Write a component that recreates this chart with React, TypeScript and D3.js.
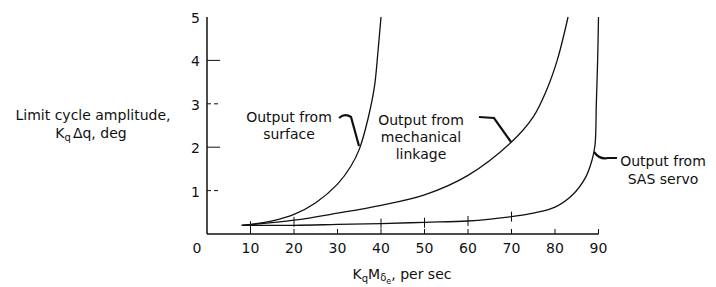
import React, { useEffect, useRef } from "react";
import * as d3 from "d3";

const width = 716;
const height = 287;
const x0 = 207;
const xEnd = 598.5;
const yTop = 17;
const y0 = 234;

const xTicks = [0, 10, 20, 30, 40, 50, 60, 70, 80, 90];
const yTicks = [1, 2, 3, 4, 5];

// [K_q M_delta_e, amplitude]
const surface: [number, number][] = [
  [8, 0.2], [10, 0.22], [15, 0.3], [20, 0.45], [25, 0.72], [30, 1.15],
  [33, 1.55], [35, 1.95], [37, 2.65], [38.5, 3.4], [39.3, 4.2], [40, 5],
];
const mechanical: [number, number][] = [
  [8, 0.2], [20, 0.32], [30, 0.48], [40, 0.66], [50, 0.9], [60, 1.35],
  [70, 2.12], [75, 2.7], [78, 3.3], [80.5, 4], [83, 5],
];
const sasServo: [number, number][] = [
  [8, 0.2], [20, 0.2], [30, 0.22], [40, 0.24], [50, 0.27], [60, 0.3],
  [70, 0.4], [75, 0.48], [80, 0.62], [84, 0.9], [87, 1.3], [88.5, 1.7],
  [89.2, 2.05], [89.5, 3], [89.8, 4], [90, 5],
];
const testMarks: [number, number][] = [
  [10, 0.18], [20, 0.28], [40, 0.24], [50, 0.26], [60, 0.3], [70, 0.4],
];

const font = "'DejaVu Sans', sans-serif";
const fs = 14;

export default function App() {
  const ref = useRef<SVGSVGElement>(null);

  useEffect(() => {
    const svg = d3.select(ref.current);
    svg.selectAll("*").remove();

    const x = d3.scaleLinear().domain([0, 90]).range([x0, xEnd]);
    const y = d3.scaleLinear().domain([0, 5]).range([y0, yTop]);

    const g = svg.append("g").attr("font-family", font).attr("fill", "#111");

    // axes
    g.append("line")
      .attr("x1", x(0)).attr("x2", x(0)).attr("y1", y(0)).attr("y2", y(5))
      .attr("stroke", "#111").attr("stroke-width", 1.5);
    g.append("line")
      .attr("x1", x(0)).attr("x2", x(90)).attr("y1", y(0)).attr("y2", y(0))
      .attr("stroke", "#111").attr("stroke-width", 1.5);

    g.selectAll(".ytick")
      .data(yTicks.filter((d) => d < 5))
      .enter()
      .append("line")
      .attr("x1", x(0)).attr("x2", x(0) + 13)
      .attr("y1", (d) => y(d)).attr("y2", (d) => y(d))
      .attr("stroke", "#111").attr("stroke-width", 1)
      .attr("stroke-dasharray", (d) => (d % 2 === 1 ? "4,3" : null));

    g.selectAll(".ylab")
      .data(yTicks)
      .enter()
      .append("text")
      .attr("x", x(0) - 7)
      .attr("y", (d) => y(d) + 6)
      .attr("text-anchor", "end")
      .attr("font-size", fs)
      .text((d) => d);

    g.selectAll(".xtick")
      .data(xTicks.filter((d) => d > 0))
      .enter()
      .append("line")
      .attr("x1", (d) => x(d)).attr("x2", (d) => x(d))
      .attr("y1", y(0)).attr("y2", y(0) - 5)
      .attr("stroke", "#111").attr("stroke-width", 1);

    g.selectAll(".xlab")
      .data(xTicks)
      .enter()
      .append("text")
      .attr("x", (d) => (d === 0 ? x(0) - 10 : x(d)))
      .attr("y", y(0) + 19)
      .attr("text-anchor", "middle")
      .attr("font-size", fs)
      .text((d) => d);

    // curves
    const line = d3
      .line<[number, number]>()
      .x((d) => x(d[0]))
      .y((d) => y(d[1]))
      .curve(d3.curveCatmullRom.alpha(0.5));

    [surface, mechanical, sasServo].forEach((s) => {
      g.append("path")
        .attr("d", line(s))
        .attr("fill", "none")
        .attr("stroke", "#111")
        .attr("stroke-width", 1.3);
    });

    g.selectAll(".mark")
      .data(testMarks)
      .enter()
      .append("line")
      .attr("x1", (d) => x(d[0])).attr("x2", (d) => x(d[0]))
      .attr("y1", (d) => y(d[1]) - 5).attr("y2", (d) => y(d[1]) + 5)
      .attr("stroke", "#111").attr("stroke-width", 1);

    // labels
    const label = (lines: string[], cx: number, by: number, dy: number) => {
      lines.forEach((t, i) => {
        g.append("text")
          .attr("x", cx).attr("y", by + i * dy)
          .attr("text-anchor", "middle")
          .attr("font-size", fs)
          .text(t);
      });
    };
    label(["Output from", "surface"], 289, 122, 17);
    label(["Output from", "mechanical", "linkage"], 421, 125, 17);
    label(["Output from", "SAS servo"], 663, 166, 18);

    const leader = (d: string) =>
      g.append("path").attr("d", d).attr("fill", "none")
        .attr("stroke", "#111").attr("stroke-width", 2.2);
    leader("M339,118 Q345,113 351,117 L359,146");
    leader("M479,117 L494,118 L511,142");
    leader("M594,152 Q600,160 608,158 L617,158");

    // y title
    const yt = g.append("text").attr("x", 93).attr("y", 120)
      .attr("text-anchor", "middle").attr("font-size", fs);
    yt.text("Limit cycle amplitude,");
    const yt2 = g.append("text").attr("x", 91).attr("y", 138)
      .attr("text-anchor", "middle").attr("font-size", fs);
    yt2.append("tspan").text("K");
    yt2.append("tspan").attr("font-size", 10).attr("dy", 3).text("q");
    yt2.append("tspan").attr("dy", -3).attr("dx", 2).text("\u0394q,  deg");

    // x title
    const xt = g.append("text").attr("x", 402).attr("y", 279)
      .attr("text-anchor", "middle").attr("font-size", fs);
    xt.append("tspan").text("K");
    xt.append("tspan").attr("font-size", 10).attr("dy", 3).text("q");
    xt.append("tspan").attr("dy", -3).text("M");
    xt.append("tspan").attr("font-size", 10).attr("dy", 2).text("\u03b4");
    xt.append("tspan").attr("font-size", 8).attr("dy", 3).text("e");
    xt.append("tspan").attr("dy", -5).text(",  per sec");
  }, []);

  return (
    <svg
      ref={ref}
      width={width}
      height={height}
      style={{ position: "absolute", left: 0, top: 0, background: "#fff" }}
    />
  );
}
